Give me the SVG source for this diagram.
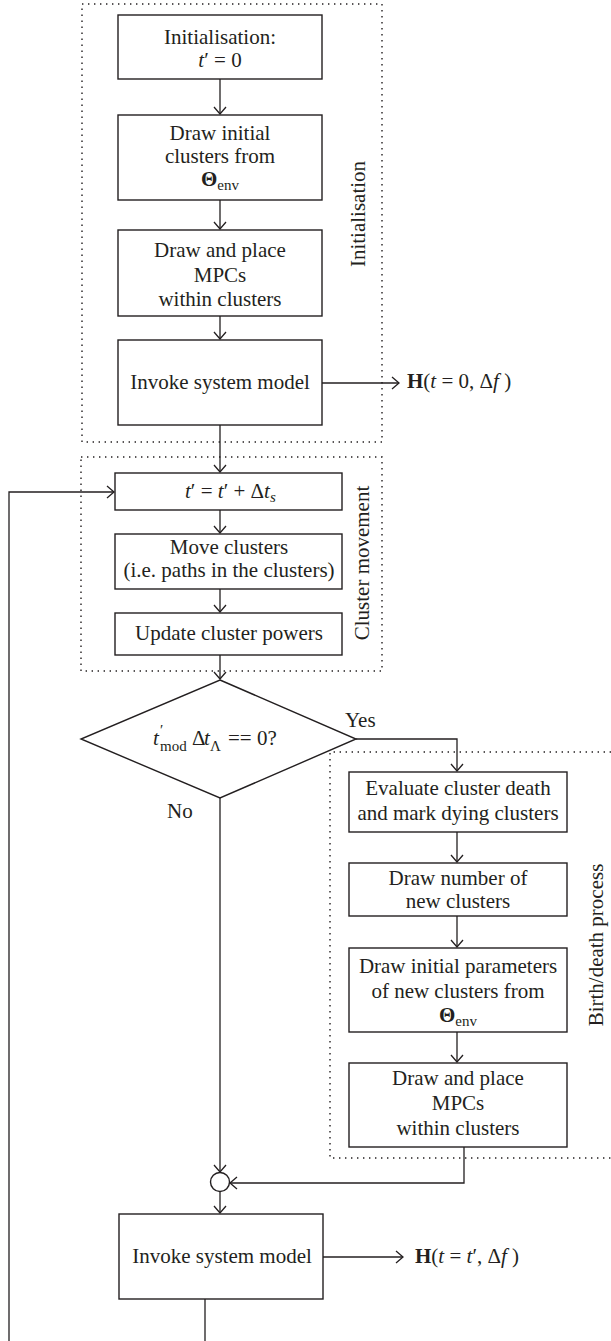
<svg xmlns="http://www.w3.org/2000/svg" width="611" height="1341" viewBox="0 0 611 1341">
<style>
.b{fill:#fff;stroke:#231f20;stroke-width:1.4}
.c{fill:none;stroke:#231f20;stroke-width:1.3}
.d{fill:none;stroke:#231f20;stroke-width:1.4;stroke-dasharray:1.4 4.6}
text{font-family:"Liberation Serif","DejaVu Serif",serif;font-size:21px;fill:#231f20}
.m{text-anchor:middle}
.it{font-style:italic}
.bf{font-weight:bold}
.s{font-size:15px}
</style>
<defs>
<marker id="a" markerUnits="userSpaceOnUse" markerWidth="16" markerHeight="16" viewBox="-9 -8 10 16" refX="0" refY="0" orient="auto">
<path d="M-7,-6 L0,0 L-7,6" fill="none" stroke="#231f20" stroke-width="1.3"/>
</marker>
</defs>
<rect id="bg" width="611" height="1341" fill="#fff"/>

<g id="groups">
<rect class="d" x="82" y="4" width="300" height="438"/>
<rect class="d" x="81" y="457" width="301" height="214"/>
<path class="d" d="M611,752 H330 V1158 H611"/>
<text transform="translate(365,214) rotate(-90)" class="m">Initialisation</text>
<text transform="translate(369,563) rotate(-90)" class="m">Cluster movement</text>
<text transform="translate(603,945) rotate(-90)" class="m">Birth/death process</text>
</g>

<g id="connectors">
<path class="c" d="M220,79 V114" marker-end="url(#a)"/>
<path class="c" d="M220,200 V229" marker-end="url(#a)"/>
<path class="c" d="M220,316 V339" marker-end="url(#a)"/>
<path class="c" d="M322,383 H399" marker-end="url(#a)"/>
<path class="c" d="M220,425 V472" marker-end="url(#a)"/>
<path class="c" d="M220,510 V533" marker-end="url(#a)"/>
<path class="c" d="M220,589 V612" marker-end="url(#a)"/>
<path class="c" d="M220,655 V679" marker-end="url(#a)"/>
<path class="c" d="M356,739 H457 V771" marker-end="url(#a)"/>
<path class="c" d="M457,832 V862" marker-end="url(#a)"/>
<path class="c" d="M457,916 V947" marker-end="url(#a)"/>
<path class="c" d="M457,1032 V1062" marker-end="url(#a)"/>
<path class="c" d="M220,798 V1172" marker-end="url(#a)"/>
<path class="c" d="M464,1147 V1183 H230" marker-end="url(#a)"/>
<path class="c" d="M220,1192 V1213" marker-end="url(#a)"/>
<path class="c" d="M323,1257 H403" marker-end="url(#a)"/>
<path class="c" d="M205,1299 V1350 H9 V492 H114" marker-end="url(#a)"/>
<text x="345" y="727">Yes</text>
<text x="167" y="818">No</text>
<text x="407" y="388"><tspan class="bf">H</tspan>(<tspan class="it">t</tspan> = 0, Δ<tspan class="it">f</tspan> )</text>
<text x="415" y="1263"><tspan class="bf">H</tspan>(<tspan class="it">t</tspan> = <tspan class="it">t</tspan>′, Δ<tspan class="it">f</tspan> )</text>
</g>

<g id="n1">
<rect class="b" x="118" y="15" width="204" height="64"/>
<text class="m" x="220" y="44">Initialisation:</text>
<text class="m" x="220" y="67"><tspan class="it">t</tspan>′ = 0</text>
</g>
<g id="n2">
<rect class="b" x="118" y="115" width="204" height="85"/>
<text class="m" x="220" y="140">Draw initial</text>
<text class="m" x="220" y="163">clusters from</text>
<text class="m" x="220" y="186"><tspan class="bf">Θ</tspan><tspan class="s" dy="4">env</tspan></text>
</g>
<g id="n3">
<rect class="b" x="118" y="230" width="204" height="86"/>
<text class="m" x="220" y="257">Draw and place</text>
<text class="m" x="220" y="282">MPCs</text>
<text class="m" x="220" y="306">within clusters</text>
</g>
<g id="n4">
<rect class="b" x="118" y="340" width="204" height="85"/>
<text class="m" x="220" y="389">Invoke system model</text>
</g>

<g id="n5">
<rect class="b" x="115" y="473" width="227" height="37"/>
<text x="185" y="498"><tspan class="it">t</tspan>′ = <tspan class="it">t</tspan>′ + Δ<tspan class="it">t</tspan><tspan class="it s" dy="4">s</tspan></text>
</g>
<g id="n6">
<rect class="b" x="115" y="534" width="227" height="55"/>
<text class="m" x="229" y="554">Move clusters</text>
<text class="m" x="229" y="577">(i.e. paths in the clusters)</text>
</g>
<g id="n7">
<rect class="b" x="115" y="613" width="227" height="42"/>
<text class="m" x="229" y="640">Update cluster powers</text>
</g>

<g id="decision">
<path class="b" d="M220,680 L356,739 L220,798 L81,739 Z"/>
<text><tspan class="it" x="153" y="745">t</tspan><tspan class="s" x="160" y="735">′</tspan><tspan class="s" x="160" y="751">mod</tspan><tspan x="192" y="745">Δ</tspan><tspan class="it" x="204" y="745">t</tspan><tspan class="s" x="210" y="751">Λ</tspan><tspan x="228" y="745">== 0?</tspan></text>
</g>

<g id="n8">
<rect class="b" x="349" y="772" width="218" height="60"/>
<text class="m" x="458" y="795">Evaluate cluster death</text>
<text class="m" x="458" y="820">and mark dying clusters</text>
</g>
<g id="n9">
<rect class="b" x="349" y="863" width="218" height="53"/>
<text class="m" x="458" y="885">Draw number of</text>
<text class="m" x="458" y="908">new clusters</text>
</g>
<g id="n10">
<rect class="b" x="349" y="948" width="218" height="84"/>
<text class="m" x="458" y="973">Draw initial parameters</text>
<text class="m" x="458" y="998">of new clusters from</text>
<text class="m" x="458" y="1022"><tspan class="bf">Θ</tspan><tspan class="s" dy="4">env</tspan></text>
</g>
<g id="n11">
<rect class="b" x="349" y="1063" width="218" height="84"/>
<text class="m" x="458" y="1085">Draw and place</text>
<text class="m" x="458" y="1110">MPCs</text>
<text class="m" x="458" y="1135">within clusters</text>
</g>

<g id="merge">
<circle class="b" cx="220" cy="1182" r="9.5"/>
</g>

<g id="n12">
<rect class="b" x="119" y="1214" width="204" height="85"/>
<text class="m" x="222" y="1263">Invoke system model</text>
</g>
</svg>
